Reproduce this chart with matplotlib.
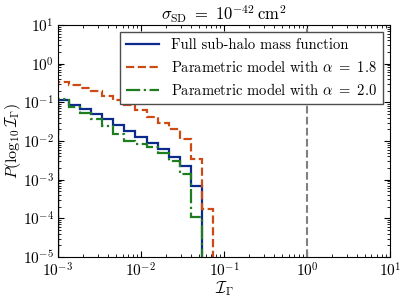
import numpy as np
import matplotlib
matplotlib.use("Agg")
import matplotlib.pyplot as plt

plt.rcParams['font.family'] = 'serif'
plt.rcParams['font.serif'] = ['cmr10']
plt.rcParams['mathtext.fontset'] = 'cm'
plt.rcParams['axes.formatter.use_mathtext'] = True
plt.rcParams['axes.unicode_minus'] = False

# log-spaced bins, 30 over [1e-3, 10]
edges = np.logspace(-3, 1, 31)

# log10 of P per bin
log_full = [-0.94, -1.07, -1.18, -1.30, -1.44, -1.59, -1.73, -1.89, -2.06,
            -2.22, -2.41, -2.64, -3.16]
log_a18 = [-0.48, -0.55, -0.64, -0.71, -0.84, -0.94, -1.07, -1.20, -1.37,
           -1.53, -1.70, -1.95, -2.47, -3.77]
log_a20 = [-0.92, -1.13, -1.27, -1.44, -1.61, -1.82, -1.99, -2.08, -2.16,
           -2.30, -2.51, -2.85, -3.97]

labels = ['Full sub-halo mass function',
          r'Parametric model with $\alpha\ =\ 1.8$',
          r'Parametric model with $\alpha\ =\ 2.0$']

fig = plt.figure(figsize=(4.07, 2.99), dpi=100)
ax = fig.add_axes([0.1425, 0.1405, 0.8155, 0.776])

series = [(log_full, '#0a2a8c', '-', labels[0]),
          (log_a18, '#cc4a14', '--', labels[1]),
          (log_a20, '#1e7d1e', '-.', labels[2])]
for logs, c, ls, lab in series:
    vals = 10.0 ** np.array(logs)
    ax.stairs(vals, edges[:len(vals) + 1], baseline=1e-12, color=c,
              linestyle=ls, linewidth=1.6, label=lab)

ax.axvline(1.0, color='0.5', linestyle='--', linewidth=1.5)

ax.set_xscale('log')
ax.set_yscale('log')
ax.set_xlim(1e-3, 1e1)
ax.set_ylim(1e-5, 1e1)
ax.tick_params(which='both', direction='in', top=True, right=True, labelsize=11)
ax.tick_params(which='major', length=4.5, pad=3)
ax.tick_params(which='minor', length=2.2)
ax.yaxis.set_major_locator(matplotlib.ticker.LogLocator(base=10, numticks=10))
ax.yaxis.set_minor_locator(matplotlib.ticker.LogLocator(base=10, subs=np.arange(2, 10), numticks=20))

ax.set_xlabel(r'$\mathcal{I}_\Gamma$', fontsize=12, labelpad=0)
ax.set_ylabel(r'$P(\log_{10}\mathcal{I}_\Gamma)$', fontsize=11.5, labelpad=0)
ax.set_title(r'$\sigma_{\rm SD}\ =\ 10^{-42}\,{\rm cm}^2$', fontsize=12, pad=3)

leg = ax.legend(loc='upper right', fontsize=10.5, fancybox=False, edgecolor='0.3',
                framealpha=1, handlelength=2.3, borderaxespad=0.5,
                labelspacing=0.5, borderpad=0.4)
leg.get_frame().set_linewidth(1.0)

fig.savefig('out.png', dpi=100)
